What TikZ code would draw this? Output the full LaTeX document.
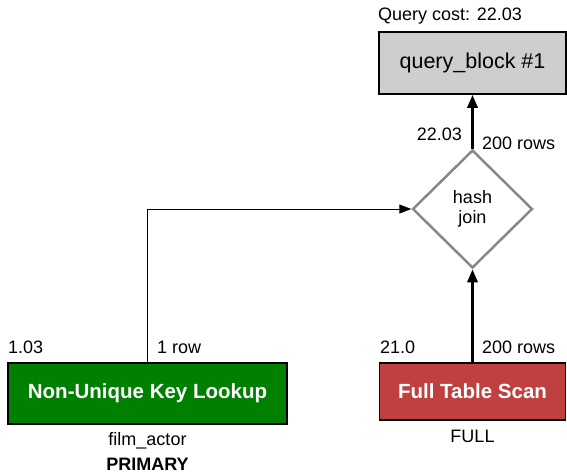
\documentclass[tikz,border=0pt]{standalone}
\usepackage{fontspec}
\setmainfont{Liberation Sans}
\usetikzlibrary{shapes.geometric,arrows.meta}
\definecolor{qgray}{RGB}{206,206,206}
\definecolor{nukgreen}{RGB}{0,128,0}
\definecolor{ftsred}{RGB}{192,64,64}
\definecolor{djgray}{RGB}{136,136,136}
\begin{document}
\begin{tikzpicture}[x=1pt,y=-1pt,
  lbl/.style={font=\fontsize{18}{20}\selectfont, inner sep=0pt},
  opbox/.style={draw=black, line width=1.5pt, inner sep=0pt, text=white, font=\fontsize{20.5}{22}\selectfont\bfseries},
  thinarrow/.style={line width=1pt, -{Triangle[length=12pt,width=9pt]}},
  thickarrow/.style={line width=3pt, -{Triangle[length=13pt,width=10pt]}}]
\useasboundingbox (0,0) rectangle (567,475);
\node[lbl, anchor=west] (qcost) at (378,16) {Query cost: 22.03};
\node[draw=black, line width=1.5pt, fill=qgray, minimum width=187pt, minimum height=62pt, inner sep=0pt, font=\fontsize{21.5}{23}\selectfont] (qb) at (472.5,63) {query\_block \#1};
\node[diamond, draw=djgray, line width=2.5pt, fill=white, minimum width=120pt, minimum height=118pt, inner sep=0pt, align=center, font=\fontsize{18}{20}\selectfont] (hj) at (472.5,209) {hash\\join};
\node[opbox, fill=nukgreen, minimum width=279pt, minimum height=61pt] (nuk) at (147.5,393.5) {Non-Unique Key Lookup};
\node[opbox, fill=ftsred, minimum width=186pt, minimum height=57pt] (fts) at (472.5,391.5) {Full Table Scan};
\draw[thickarrow] (hj.north) -- (qb.south);
\draw[thickarrow] (fts.north) -- (hj.south);
\draw[thinarrow] (nuk.north) |- (hj.west);
\node[lbl, anchor=east] (c1) at (462,134) {22.03};
\node[lbl, anchor=west] (r1) at (482,143) {200 rows};
\node[lbl, anchor=west] (c2) at (8,347) {1.03};
\node[lbl, anchor=west] (r2) at (157,347) {1 row};
\node[lbl, anchor=west] (c3) at (380,347) {21.0};
\node[lbl, anchor=west] (r3) at (482,347) {200 rows};
\node[lbl] (t1) at (147.5,441) {film\_actor};
\node[lbl, font=\fontsize{18}{20}\selectfont\bfseries] (k1) at (147.5,464) {PRIMARY};
\node[lbl] (t2) at (472.5,436) {FULL};
\end{tikzpicture}
\end{document}
